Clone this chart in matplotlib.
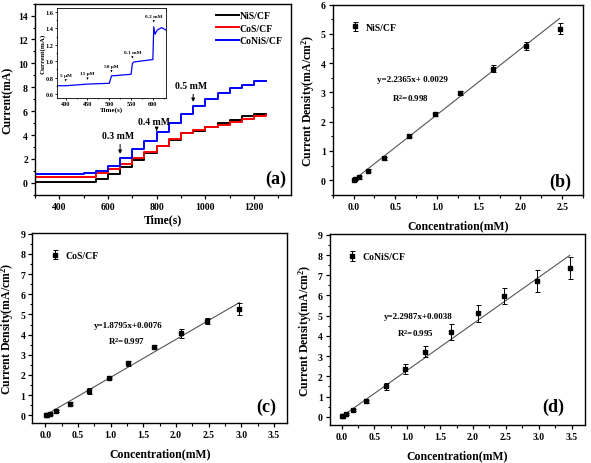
import numpy as np
import matplotlib
matplotlib.use("Agg")
import matplotlib.pyplot as plt
from matplotlib.ticker import MultipleLocator, AutoMinorLocator, FormatStrFormatter

plt.rcParams['font.family'] = ['Liberation Serif', 'DejaVu Serif']
plt.rcParams['font.weight'] = 'bold'
plt.rcParams['axes.labelweight'] = 'bold'
plt.rcParams['axes.linewidth'] = 1.0
plt.rcParams['mathtext.fontset'] = 'custom'
plt.rcParams['mathtext.rm'] = 'Liberation Serif:bold'
plt.rcParams['mathtext.bf'] = 'Liberation Serif:bold'
plt.rcParams['mathtext.default'] = 'rm'

# ---- panel (a): amperometric steps ----
step_times = [300, 400, 450, 500, 550, 600, 650, 700, 750, 800, 850, 900, 950, 1000, 1050, 1100, 1150, 1200, 1250]
nis_levels = [0.10, 0.10, 0.10, 0.10, 0.30, 0.70, 1.30, 1.90, 2.50, 3.05, 3.55, 4.15, 4.35, 4.65, 5.00, 5.30, 5.60, 5.80, 5.80]
cos_levels = [0.50, 0.50, 0.50, 0.52, 0.80, 1.15, 1.60, 2.10, 2.55, 3.10, 3.65, 4.15, 4.45, 4.70, 4.85, 5.10, 5.35, 5.60, 5.70]
conis_levels = [0.70, 0.71, 0.73, 0.80, 1.00, 1.40, 2.10, 2.80, 3.50, 4.25, 5.00, 5.80, 6.45, 7.00, 7.50, 7.90, 8.20, 8.50, 8.55]

arrow_times = [650, 800, 950]
arrow_labels = ['0.3 mM', '0.4 mM', '0.5 mM']
arrow_tip = [2.2, 4.35, 6.55]
arrow_text_y = [3.6, 4.8, 7.8]

# inset
inset_t = [380, 400, 450, 500, 505, 550, 553, 556, 600, 602, 605, 610, 620, 630]
inset_i = [0.70, 0.70, 0.72, 0.73, 0.82, 0.84, 0.97, 0.99, 1.02, 1.42, 1.33, 1.38, 1.41, 1.38]
inset_marks = [400, 450, 505, 553, 602]
inset_mark_labels = ['5 μM', '15 μM', '50 μM', '0.1 mM', '0.2 mM']
inset_mark_y = [0.72, 0.74, 0.83, 1.00, 1.44]

# ---- calibration panels ----
conc = [0.005, 0.02, 0.07, 0.17, 0.37, 0.67, 0.97, 1.27, 1.67, 2.07, 2.47, 2.97, 3.47]

nis_j = [0.02, 0.05, 0.10, 0.32, 0.75, 1.52, 2.27, 2.97, 3.80, 4.58, 5.18]
nis_err = [0.03, 0.03, 0.05, 0.05, 0.05, 0.05, 0.07, 0.06, 0.12, 0.13, 0.18]
cos_j = [0.01, 0.03, 0.06, 0.22, 0.58, 1.22, 1.85, 2.58, 3.40, 4.07, 4.67, 5.27]
cos_err = [0.03, 0.03, 0.04, 0.05, 0.06, 0.15, 0.07, 0.12, 0.08, 0.22, 0.15, 0.30]
conis_j = [0.02, 0.06, 0.13, 0.33, 0.77, 1.50, 2.37, 3.22, 4.20, 5.13, 5.98, 6.70, 7.35]
conis_err = [0.04, 0.04, 0.05, 0.07, 0.08, 0.18, 0.25, 0.28, 0.38, 0.42, 0.38, 0.55, 0.55]

fits = [(2.2365, 0.0029), (1.8795, 0.0076), (2.2987, 0.0038)]
fit_texts = ['y=2.2365x+ 0.0029', 'y=1.8795x+0.0076', 'y=2.2987x+0.0038']
r2_texts = ['R$^{2}$=0.998', 'R$^{2}$=0.997', 'R$^{2}$=0.995']

fig = plt.figure(figsize=(5.91, 4.64), dpi=100)

def style(ax):
    ax.tick_params(direction='out', length=3, width=0.9, labelsize=7, pad=2)
    ax.tick_params(which='minor', direction='out', length=1.8, width=0.8)
    ax.xaxis.set_minor_locator(AutoMinorLocator(2))
    ax.yaxis.set_minor_locator(AutoMinorLocator(2))
    for lab in ax.get_xticklabels() + ax.get_yticklabels():
        lab.set_fontweight('bold')

# (a)
ax = fig.add_axes([0.059, 0.578, 0.4327, 0.412])
ax.plot(step_times, nis_levels, drawstyle='steps-post', color='black', lw=1.4, label='NiS/CF')
ax.plot(step_times, cos_levels, drawstyle='steps-post', color='red', lw=1.4, label='CoS/CF')
ax.plot(step_times, conis_levels, drawstyle='steps-post', color='blue', lw=1.4, label='CoNiS/CF')
ax.set_xlim(300, 1350)
ax.set_ylim(-1, 15)
ax.xaxis.set_major_locator(MultipleLocator(200))
ax.yaxis.set_major_locator(MultipleLocator(2))
style(ax)
ax.set_xlabel('Time(s)', fontsize=8.5, labelpad=2)
ax.set_ylabel('Current(mA)', fontsize=8.5, labelpad=3)
for t, lab, tip, ty in zip(arrow_times, arrow_labels, arrow_tip, arrow_text_y):
    ax.annotate('', xy=(t, tip), xytext=(t, ty - 0.15),
                arrowprops=dict(arrowstyle='-|>', color='black', lw=0.7, mutation_scale=5))
    ax.text(t - 10, ty, lab, fontsize=7, ha='center', va='bottom', fontweight='bold')
ax.legend(loc='upper right', bbox_to_anchor=(1.0, 1.0), frameon=False, fontsize=7,
          handlelength=2.3, handletextpad=0.1, labelspacing=0.35, borderaxespad=0.4)
ax.text(0.94, 0.085, '(a)', transform=ax.transAxes, fontsize=13, ha='center', va='center', fontweight='bold')

# inset
axi = fig.add_axes([0.0964, 0.7866, 0.1844, 0.194])
axi.plot(inset_t, inset_i, color='blue', lw=0.9)
axi.set_xlim(380, 630)
axi.set_ylim(0.55, 1.65)
axi.xaxis.set_major_locator(MultipleLocator(50))
axi.yaxis.set_major_locator(MultipleLocator(0.2))
axi.tick_params(direction='out', length=1.5, width=0.6, labelsize=4.5, pad=1)
axi.xaxis.set_minor_locator(AutoMinorLocator(2))
axi.yaxis.set_minor_locator(AutoMinorLocator(2))
axi.tick_params(which='minor', direction='out', length=1, width=0.5)
for sp in axi.spines.values():
    sp.set_linewidth(0.6)
axi.set_xlabel('Time(s)', fontsize=5, labelpad=0)
axi.set_ylabel('Current(mA)', fontsize=5, labelpad=0)
for t, lab, y in zip(inset_marks, inset_mark_labels, inset_mark_y):
    axi.annotate('', xy=(t, y), xytext=(t, y + 0.08),
                 arrowprops=dict(arrowstyle='-|>', color='black', lw=0.4, mutation_scale=2.5))
    axi.text(t, y + 0.09, lab, fontsize=3.8, ha='center', va='bottom', fontweight='bold')

# calibration panels
panels = [
    ([0.563, 0.578, 0.4235, 0.41], nis_j, nis_err, 'NiS/CF', (-0.25, 2.75), (-0.5, 6),
     (0.275, 3.44), (0.46, 2.84), '(b)', (0.91, 0.07)),
    ([0.0547, 0.0862, 0.431, 0.41], cos_j, cos_err, 'CoS/CF', (-0.2, 3.7), (-0.38, 9.05),
     (0.74, 4.49), (0.96, 3.71), '(c)', (0.92, 0.086)),
    ([0.558, 0.0819, 0.4315, 0.412], conis_j, conis_err, 'CoNiS/CF', (-0.18, 3.7), (-0.41, 9.05),
     (0.64, 4.98), (0.84, 4.18), '(d)', (0.876, 0.096)),
]

for k, (pos, jv, err, name, xl, yl, ftpos, r2pos, tag, tagpos) in enumerate(panels):
    ax = fig.add_axes(pos)
    x = np.array(conc[:len(jv)])
    ax.errorbar(x, jv, yerr=err, fmt='s', ms=3.5, color='black', ecolor='black',
                elinewidth=0.7, capsize=1.8, capthick=0.7, label=name, zorder=3)
    slope, icpt = fits[k]
    xf = np.array([0, x[-1]])
    ax.plot(xf, slope * xf + icpt, color='#555555', lw=0.8, zorder=2)
    ax.set_xlim(*xl)
    ax.set_ylim(*yl)
    ax.xaxis.set_major_locator(MultipleLocator(0.5))
    ax.yaxis.set_major_locator(MultipleLocator(1))
    ax.xaxis.set_major_formatter(FormatStrFormatter('%.1f'))
    style(ax)
    ax.set_xlabel('Concentration(mM)', fontsize=8.5, labelpad=6)
    ax.set_ylabel('Current Density(mA/cm$^{2}$)', fontsize=8.5, labelpad=3)
    ax.text(ftpos[0], ftpos[1], fit_texts[k], fontsize=6.5, ha='left', va='center', fontweight='bold')
    ax.text(r2pos[0], r2pos[1], r2_texts[k], fontsize=6.5, ha='left', va='center', fontweight='bold')
    ax.legend(loc='upper left', bbox_to_anchor=(0.03, 0.95), frameon=False, fontsize=7,
              handlelength=1.2, handletextpad=0.5)
    ax.text(tagpos[0], tagpos[1], tag, transform=ax.transAxes, fontsize=13, ha='center', va='center', fontweight='bold')

fig.savefig('out.png', dpi=100)
